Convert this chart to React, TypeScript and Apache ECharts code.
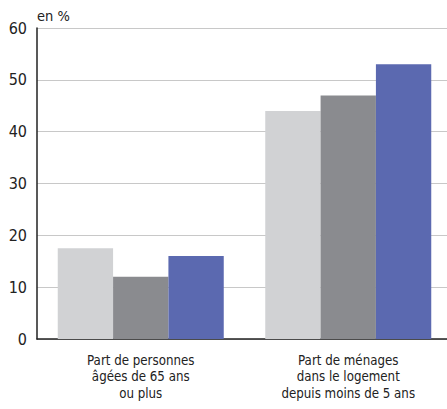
import React, { useEffect, useRef } from "react";
import * as echarts from "echarts";

const categories = [
  "Part de personnes\nâgées de 65 ans\nou plus",
  "Part de ménages\ndans le logement\ndepuis moins de 5 ans",
];
const seriesA = [17.5, 44];
const seriesB = [12, 47];
const seriesC = [16, 53];
const colors = ["#d1d2d4", "#8a8b8f", "#5b69b0"];
const unitLabel = "en %";

const FONT = "'Liberation Sans Narrow', 'DejaVu Sans Condensed', sans-serif";

export default function App() {
  const ref = useRef<HTMLDivElement>(null);
  useEffect(() => {
    const chart = echarts.init(ref.current!, null, { renderer: "svg" });
    const mk = (name: string, data: number[], color: string) => ({
      name,
      type: "bar",
      data,
      barGap: "0%",
      barCategoryGap: "20%",
      itemStyle: { color },
    });
    chart.setOption({
      animation: false,
      textStyle: { fontFamily: FONT },
      grid: { left: 37, top: 28, right: 0, bottom: 70, containLabel: false },
      graphic: [
        {
          type: "text",
          left: 37,
          top: 8,
          style: { text: unitLabel, fontFamily: FONT, fontSize: 14.5, fill: "#222" },
        },
      ],
      xAxis: {
        type: "category",
        data: categories,
        axisLine: { lineStyle: { color: "#222", width: 1.5 } },
        axisTick: { show: false },
        axisLabel: {
          color: "#222",
          fontFamily: FONT,
          fontSize: 13.2,
          lineHeight: 16.5,
          margin: 13,
          interval: 0,
        },
      },
      yAxis: {
        type: "value",
        min: 0,
        max: 60,
        interval: 10,
        axisLine: { show: true, lineStyle: { color: "#222", width: 1.5 } },
        axisTick: { show: false },
        splitLine: { lineStyle: { color: "#c8c8c8", width: 1.2 } },
        axisLabel: { color: "#222", fontFamily: FONT, fontSize: 16, margin: 10 },
      },
      series: [
        mk("A", seriesA, colors[0]),
        mk("B", seriesB, colors[1]),
        mk("C", seriesC, colors[2]),
      ],
    });
    return () => chart.dispose();
  }, []);
  return (
    <div
      style={{ position: "absolute", left: 0, top: 0, width: 447, height: 409, overflow: "hidden", background: "#fff" }}
    >
      <div ref={ref} style={{ width: 452, height: 409 }} />
    </div>
  );
}
